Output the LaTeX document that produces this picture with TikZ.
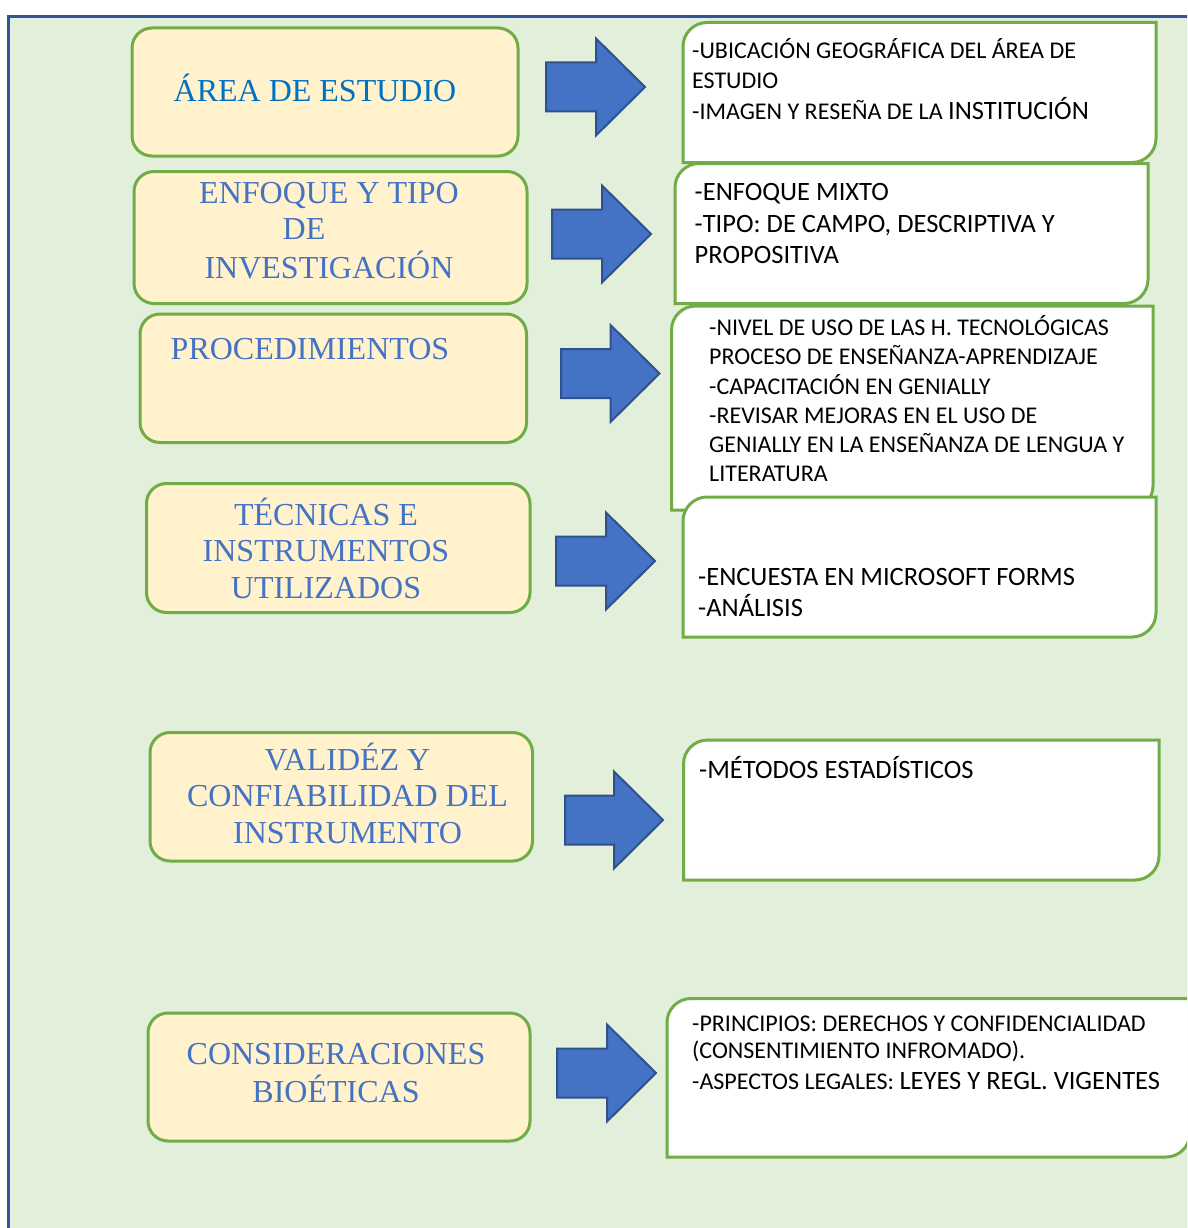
\documentclass[tikz,border=0pt]{standalone}
\usepackage{fontspec}
\setmainfont{Liberation Serif}
\newfontfamily\calib{Carlito}
\usetikzlibrary{calc}
\definecolor{bggreen}{HTML}{E2EFDA}
\definecolor{frameblue}{HTML}{2F5597}
\definecolor{boxgreen}{HTML}{70AD47}
\definecolor{boxfill}{HTML}{FFF2CC}
\definecolor{titleblue}{HTML}{4472C4}
\definecolor{titlebluea}{HTML}{0070C0}
\definecolor{arrowfill}{HTML}{4472C4}
\definecolor{arrowline}{HTML}{2F528F}
\tikzset{
  leftbox/.style={draw=boxgreen, line width=3pt, fill=boxfill, rounded corners=20pt, inner sep=0pt},
  rightline/.style={draw=boxgreen, line width=3pt, fill=white, line join=miter},
  titletext/.style={inner sep=0pt, anchor=base, text=titleblue, font=\fontsize{32}{36.5}\selectfont},
  bodytext/.style={inner sep=0pt, anchor=base west, text=black},
  blockarrow/.style={fill=arrowfill, draw=arrowline, line width=2pt, line join=miter},
}
\newcommand\bigarrow[3]{%
  \draw[blockarrow] (#1,#3-24.5) -- (#2-49,#3-24.5) -- (#2-49,#3-48.5) -- (#2,#3)
     -- (#2-49,#3+48.5) -- (#2-49,#3+24.5) -- (#1,#3+24.5) -- cycle;}
\newcommand\rightbox[5]{%
  \path[rightline] (#2,#3+24) .. controls (#2,#3+10.8) and (#2+10.8,#3) .. (#2+24,#3)
     -- (#4,#3) -- (#4,#5-24) .. controls (#4,#5-10.8) and (#4-10.8,#5) .. (#4-24,#5)
     -- (#2,#5) -- cycle;
  \coordinate (#1) at ({(#2+#4)/2},{(#3+#5)/2});}
\begin{document}
\begin{tikzpicture}[x=1pt,y=-1pt]
\useasboundingbox (0,0) rectangle (1187,1228);
\clip (0,0) rectangle (1187,1228);
\fill[white] (0,0) rectangle (1187,1228);
\draw[frameblue, line width=2.5pt, fill=bggreen] (8.5,16.5) rectangle (1220,1250);

% left boxes
\node[leftbox, minimum width=386pt, minimum height=128pt] (L1) at (325,92) {};
\node[leftbox, minimum width=393pt, minimum height=132pt] (L2) at (330.5,237.5) {};
\node[leftbox, minimum width=386.5pt, minimum height=128.5pt] (L3) at (333.25,378.25) {};
\node[leftbox, minimum width=383.5pt, minimum height=129pt] (L4) at (338.25,548) {};
\node[leftbox, minimum width=382.5pt, minimum height=128.5pt] (L5) at (341.25,796.75) {};
\node[leftbox, minimum width=382pt, minimum height=128pt] (L6) at (339,1077) {};

% titles
\node[titletext, text=titlebluea] (T1) at (315,101.5) {ÁREA DE ESTUDIO};
\node[titletext] (T2) at (329,203.3) {\begin{tabular}[t]{@{}c@{}}ENFOQUE Y TIPO\\ DE\hspace*{50pt}\\ INVESTIGACIÓN\end{tabular}};
\node[titletext] (T3) at (310,359.3) {PROCEDIMIENTOS};
\node[titletext] (T4) at (326,525) {\begin{tabular}[t]{@{}c@{}}TÉCNICAS E\\ INSTRUMENTOS\\ UTILIZADOS\end{tabular}};
\node[titletext] (T5) at (347.5,770) {\begin{tabular}[t]{@{}c@{}}VALIDÉZ Y\\ CONFIABILIDAD DEL\\ INSTRUMENTO\end{tabular}};
\node[titletext] (T6) at (336,1064.5) {\begin{tabular}[t]{@{}c@{}}CONSIDERACIONES\\ BIOÉTICAS\end{tabular}};

% arrows
\bigarrow{546}{645}{87}
\bigarrow{552}{651}{234}
\bigarrow{561}{659.5}{373.5}
\bigarrow{556}{655}{561}
\bigarrow{565}{663}{820}
\bigarrow{557}{656}{1073}

% right boxes
\rightbox{R1}{683}{22.5}{1156}{162.5}
\node[bodytext, font=\calib\fontsize{24}{29.75}\selectfont] (B1) at (692,59) {\begin{tabular}[t]{@{}l@{}}-UBICACIÓN GEOGRÁFICA DEL ÁREA DE\\ ESTUDIO\\ -IMAGEN Y RESEÑA DE LA {\fontsize{26.5}{29.75}\selectfont INSTITUCIÓN}\end{tabular}};

\rightbox{R2}{675}{163.5}{1148}{303.5}
\node[bodytext, font=\calib\fontsize{26.5}{31.3}\selectfont] (B2) at (694.5,200.7) {\begin{tabular}[t]{@{}l@{}}-ENFOQUE MIXTO\\ -TIPO: DE CAMPO, DESCRIPTIVA Y\\ PROPOSITIVA\end{tabular}};

\rightbox{R3}{671.5}{306}{1153}{510}
\node[bodytext, font=\calib\fontsize{24}{29.2}\selectfont] (B3) at (709,335.7) {\begin{tabular}[t]{@{}l@{}}-NIVEL DE USO DE LAS H. TECNOLÓGICAS\\ PROCESO DE ENSEÑANZA-APRENDIZAJE\\ -CAPACITACIÓN EN GENIALLY\\ -REVISAR MEJORAS EN EL USO DE\\ GENIALLY EN LA ENSEÑANZA DE LENGUA Y\\ LITERATURA\end{tabular}};

\rightbox{R4}{683}{497}{1156}{637}
\node[bodytext, font=\calib\fontsize{26.5}{30.7}\selectfont] (B4) at (698,585) {\begin{tabular}[t]{@{}l@{}}-ENCUESTA EN MICROSOFT FORMS\\ -ANÁLISIS\end{tabular}};

\rightbox{R5}{683.5}{740}{1159}{880}
\node[bodytext, font=\calib\fontsize{26.5}{30.7}\selectfont] (B5) at (699,778.3) {-MÉTODOS ESTADÍSTICOS};

\rightbox{R6}{667}{998.5}{1190}{1157}
\node[bodytext, font=\calib\fontsize{24}{29}\selectfont] (B6) at (692,1031.7) {\begin{tabular}[t]{@{}l@{}}-PRINCIPIOS: DERECHOS Y CONFIDENCIALIDAD\\[-2.5pt] (CONSENTIMIENTO INFROMADO).\\[2.5pt] -ASPECTOS LEGALES: {\fontsize{26.5}{29}\selectfont LEYES Y REGL. VIGENTES}\end{tabular}};
\end{tikzpicture}
\end{document}
